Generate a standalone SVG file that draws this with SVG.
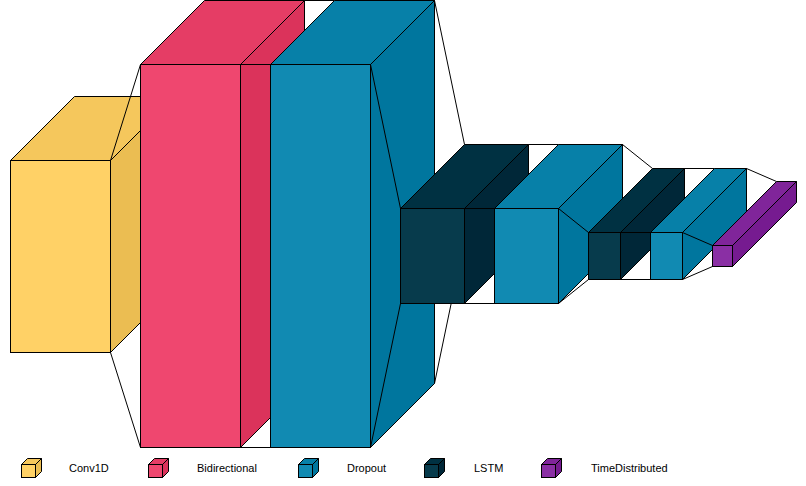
<svg xmlns="http://www.w3.org/2000/svg" width="806" height="486" viewBox="0 0 806 486">
<style>
.e{stroke:#000;stroke-width:1;stroke-linejoin:miter}
.c .f{fill:#FFD166}.c .t{fill:#F5C75C}.c .s{fill:#EBBD52}
.b .f{fill:#EF476F}.b .t{fill:#E53D65}.b .s{fill:#DB335B}
.d .f{fill:#118AB2}.d .t{fill:#0780A8}.d .s{fill:#00769E}
.l .f{fill:#073B4C}.l .t{fill:#003142}.l .s{fill:#002738}
.m .f{fill:#8A2FA4}.m .t{fill:#80259A}.m .s{fill:#761B90}
.con line{stroke:#000;stroke-width:1}
.lg{font-family:"Liberation Sans",Arial,sans-serif;font-size:11px;fill:#000}
</style>
<rect width="806" height="486" fill="#fff"/>
<g transform="translate(0.5 0.5)">
<g id="conv1d" class="c e">
<polygon class="t" points="10,160 74,96 174,96 110,160"/>
<polygon class="s" points="174,96 110,160 110,352 174,288"/>
<rect class="f" x="10" y="160" width="100" height="192"/>
</g>
<g id="bidirectional" class="b e">
<polygon class="t" points="140,64 204,0 304,0 240,64"/>
<polygon class="s" points="304,0 240,64 240,447 304,383"/>
<rect class="f" x="140" y="64" width="100" height="383"/>
</g>
<g id="dropout1" class="d e">
<polygon class="t" points="270,64 334,0 434,0 370,64"/>
<polygon class="s" points="434,0 370,64 370,447 434,383"/>
<rect class="f" x="270" y="64" width="100" height="383"/>
</g>
<g id="lstm1" class="l e">
<polygon class="t" points="400,208 464,144 528,144 464,208"/>
<polygon class="s" points="528,144 464,208 464,303 528,239"/>
<rect class="f" x="400" y="208" width="64" height="95"/>
</g>
<g id="dropout2" class="d e">
<polygon class="t" points="494,208 558,144 622,144 558,208"/>
<polygon class="s" points="622,144 558,208 558,303 622,239"/>
<rect class="f" x="494" y="208" width="64" height="95"/>
</g>
<g id="lstm2" class="l e">
<polygon class="t" points="588,232 652,168 684,168 620,232"/>
<polygon class="s" points="684,168 620,232 620,279 684,215"/>
<rect class="f" x="588" y="232" width="32" height="47"/>
</g>
<g id="dropout3" class="d e">
<polygon class="t" points="650,232 714,168 746,168 682,232"/>
<polygon class="s" points="746,168 682,232 682,279 746,215"/>
<rect class="f" x="650" y="232" width="32" height="47"/>
</g>
<g id="timedistributed" class="m e">
<polygon class="t" points="712,245 776,181 796,181 732,245"/>
<polygon class="s" points="796,181 732,245 732,266 796,202"/>
<rect class="f" x="712" y="245" width="20" height="21"/>
</g>
<g id="connectors" class="con">
<line x1="110" y1="160" x2="140" y2="64"/>
<line x1="110" y1="352" x2="140" y2="447"/>
<line x1="240" y1="64" x2="270" y2="64"/>
<line x1="240" y1="447" x2="270" y2="447"/>
<line x1="304" y1="0" x2="334" y2="0"/>
<line x1="370" y1="64" x2="400" y2="208"/>
<line x1="370" y1="447" x2="400" y2="303"/>
<line x1="434" y1="0" x2="464" y2="144"/>
<line x1="434" y1="383" x2="450.67" y2="303"/>
<line x1="464" y1="208" x2="494" y2="208"/>
<line x1="464" y1="303" x2="494" y2="303"/>
<line x1="528" y1="144" x2="558" y2="144"/>
<line x1="558" y1="208" x2="588" y2="232"/>
<line x1="558" y1="303" x2="588" y2="279"/>
<line x1="622" y1="144" x2="652" y2="168"/>
<line x1="620" y1="232" x2="650" y2="232"/>
<line x1="620" y1="279" x2="650" y2="279"/>
<line x1="684" y1="168" x2="714" y2="168"/>
<line x1="682" y1="232" x2="712" y2="245"/>
<line x1="682" y1="279" x2="712" y2="266"/>
<line x1="746" y1="168" x2="776" y2="181"/>
</g>
<g id="legend">
<g class="c e"><polygon class="t" points="21,464 27,458 41,458 35,464"/><polygon class="s" points="41,458 35,464 35,477 41,471"/><rect class="f" x="21" y="464" width="14" height="13"/></g>
<g class="b e"><polygon class="t" points="148,464 154,458 168,458 162,464"/><polygon class="s" points="168,458 162,464 162,477 168,471"/><rect class="f" x="148" y="464" width="14" height="13"/></g>
<g class="d e"><polygon class="t" points="298,464 304,458 318,458 312,464"/><polygon class="s" points="318,458 312,464 312,477 318,471"/><rect class="f" x="298" y="464" width="14" height="13"/></g>
<g class="l e"><polygon class="t" points="424,464 430,458 444,458 438,464"/><polygon class="s" points="444,458 438,464 438,477 444,471"/><rect class="f" x="424" y="464" width="14" height="13"/></g>
<g class="m e"><polygon class="t" points="541,464 547,458 561,458 555,464"/><polygon class="s" points="561,458 555,464 555,477 561,471"/><rect class="f" x="541" y="464" width="14" height="13"/></g>
</g>
</g>
<text class="lg" x="69" y="472">Conv1D</text>
<text class="lg" x="197" y="472">Bidirectional</text>
<text class="lg" x="347" y="472">Dropout</text>
<text class="lg" x="474" y="472">LSTM</text>
<text class="lg" x="591" y="472">TimeDistributed</text>
</svg>
